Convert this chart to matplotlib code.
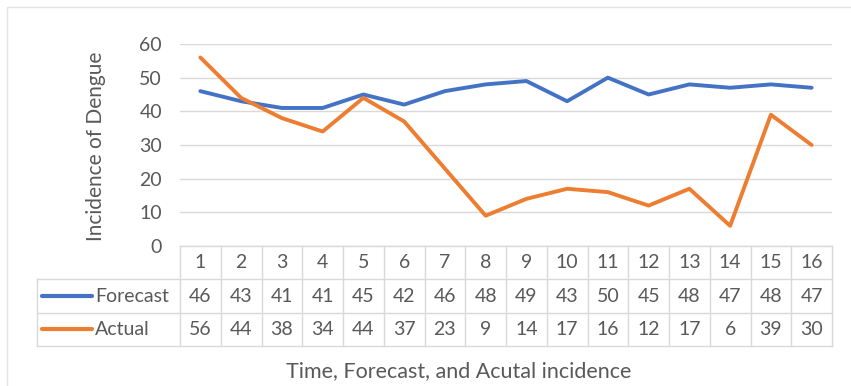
import matplotlib.pyplot as plt
from matplotlib.patches import Rectangle

periods = list(range(1, 17))
forecast = [46, 43, 41, 41, 45, 42, 46, 48, 49, 43, 50, 45, 48, 47, 48, 47]
actual = [56, 44, 38, 34, 44, 37, 23, 9, 14, 17, 16, 12, 17, 6, 39, 30]
series = [("Forecast", forecast, "#4472C4"), ("Actual", actual, "#ED7D31")]

plt.rcParams["font.family"] = ["Lato", "DejaVu Sans"]
text_color = "#595959"
grid_color = "#D9D9D9"

W, H = 851, 386
fig = plt.figure(figsize=(W / 100, H / 100), dpi=100)

# chart frame
fig.patches.append(Rectangle((7 / W, -0.1), 1.2, 1.1 - 7 / H, transform=fig.transFigure,
                             fill=False, edgecolor="#E3E3E3", linewidth=1))

# plot area
left, right = 180 / W, 832 / W
ax = fig.add_axes([left, 1 - 246 / H, right - left, (246 - 44) / H])
for name, vals, color in series:
    ax.plot(periods, vals, color=color, linewidth=2.8, solid_joinstyle="round",
            solid_capstyle="round")
ax.set_xlim(0.5, len(periods) + 0.5)
ax.set_ylim(0, 60)
ax.set_yticks(range(0, 61, 10))
ax.set_xticks([])
ax.grid(axis="y", color=grid_color, linewidth=1)
ax.set_axisbelow(True)
for s in ax.spines.values():
    s.set_visible(False)
ax.tick_params(axis="y", length=0, pad=13, labelsize=14, labelcolor=text_color)
ax.set_ylabel("Incidence of Dengue", fontsize=15, color=text_color)
ax.yaxis.set_label_coords(-0.113, 0.495)

# data table under the plot
tab = fig.add_axes([left, 1 - 346 / H, right - left, 100 / H], sharex=ax)
tab.set_ylim(0, 3)
tab.axis("off")
col_w = (right - left) * W / len(periods)
key_left = 0.5 - (180 - 37) / col_w
x_end = len(periods) + 0.5
lkw = dict(color=grid_color, linewidth=1, clip_on=False)

# horizontal rules
tab.plot([0.5, x_end], [3, 3], **lkw)
for y in (2, 1, 0):
    tab.plot([key_left, x_end], [y, y], **lkw)
# vertical rules
tab.plot([key_left, key_left], [0, 2], **lkw)
for i in range(len(periods) + 1):
    x = 0.5 + i
    tab.plot([x, x], [0, 3], **lkw)

fs = 14
for p in periods:
    tab.text(p, 2.5, str(p), ha="center", va="center", fontsize=fs, color=text_color)
for row, (name, vals, color) in zip((1.5, 0.5), series):
    k0 = key_left + 5 / col_w
    k1 = key_left + 55 / col_w
    tab.plot([k0, k1], [row, row], color=color, linewidth=3, solid_capstyle="round",
             clip_on=False)
    tab.text(k1 + 3 / col_w, row, name, ha="left", va="center", fontsize=fs,
             color=text_color)
    for p, v in zip(periods, vals):
        tab.text(p, row, str(v), ha="center", va="center", fontsize=fs, color=text_color)

fig.text(459 / W, 1 - 371 / H, "Time, Forecast, and Acutal incidence", ha="center",
         va="center", fontsize=15.5, color=text_color)

fig.savefig("out.png", dpi=100)
